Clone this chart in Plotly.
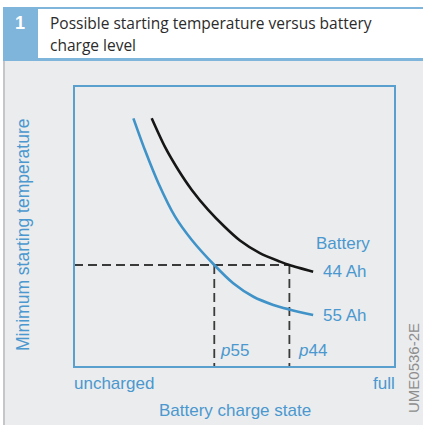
import plotly.graph_objects as go

# Charge state (0 = uncharged, 100 = full) and minimum starting temperature (relative scale)
charge_44 = [24.2, 28.3, 32.5, 36.7, 41.8, 47.0, 51.7, 57.9, 64.2, 67.1, 74.5]
temp_44 = [88.5, 78.4, 70.1, 63.0, 55.9, 49.8, 45.0, 40.5, 37.5, 36.3, 33.9]

charge_55 = [18.5, 22.1, 26.3, 31.5, 36.7, 43.7, 49.6, 55.9, 62.1, 67.1, 74.5]
temp_55 = [88.5, 77.2, 65.4, 53.5, 45.2, 36.3, 29.8, 25.0, 22.1, 20.5, 18.5]

threshold_temp = 36.3
p55 = 43.7
p44 = 67.1

W, H = 423, 425
BLUE = "#4a98cf"
CURVE_BLUE = "#3f93c8"
TEXT_FONT = "Liberation Sans, Arial, sans-serif"


def px(x):
    return x / W


def py(y):
    return 1 - y / H


fig = go.Figure()

# Dashed guides: threshold temperature and the two charge levels
fig.add_trace(go.Scatter(x=[0, p44], y=[threshold_temp, threshold_temp], mode="lines",
                         line=dict(color="#3a3a3a", width=1.8, dash="9px,5px"), hoverinfo="skip"))
for p in (p55, p44):
    fig.add_trace(go.Scatter(x=[p, p], y=[threshold_temp, 0], mode="lines",
                             line=dict(color="#3a3a3a", width=1.8, dash="9px,5px"), hoverinfo="skip"))

fig.add_trace(go.Scatter(x=charge_44, y=temp_44, mode="lines",
                         line=dict(color="#161616", width=2.6, shape="spline", smoothing=0.8),
                         name="44 Ah"))
fig.add_trace(go.Scatter(x=charge_55, y=temp_55, mode="lines",
                         line=dict(color=CURVE_BLUE, width=2.6, shape="spline", smoothing=0.8),
                         name="55 Ah"))

shapes = [
    # page background below the header
    dict(type="rect", xref="paper", yref="paper", x0=px(3), x1=1, y0=0, y1=py(61),
         fillcolor="#ebeced", line_width=0, layer="below"),
    dict(type="line", xref="paper", yref="paper", x0=px(4), x1=px(4), y0=0, y1=py(61),
         line=dict(color="#c4c6c8", width=2)),
    # header band
    dict(type="rect", xref="paper", yref="paper", x0=px(3), x1=1, y0=py(61), y1=py(7),
         fillcolor="#7fb5da", line_width=0, layer="below"),
    dict(type="rect", xref="paper", yref="paper", x0=px(38), x1=1, y0=py(58), y1=py(9),
         fillcolor="#ffffff", line_width=0, layer="below"),
    # plot frame
    dict(type="rect", xref="x domain", yref="y domain", x0=0, x1=1, y0=0, y1=1,
         line=dict(color="#5aa0cf", width=2), layer="above"),
]

annotations = [
    dict(text="<b>1</b>", x=px(20), y=py(23), xref="paper", yref="paper", showarrow=False,
         font=dict(family=TEXT_FONT, size=18, color="#ffffff"), xanchor="center", yanchor="middle"),
    dict(text="Possible starting temperature versus battery", x=px(48), y=py(23),
         xref="paper", yref="paper", showarrow=False, xanchor="left", yanchor="middle",
         font=dict(family="Open Sans, sans-serif", size=15.5, color="#2b2b2b")),
    dict(text="charge level", x=px(48), y=py(45),
         xref="paper", yref="paper", showarrow=False, xanchor="left", yanchor="middle",
         font=dict(family="Open Sans, sans-serif", size=15.5, color="#2b2b2b")),
    dict(text="Minimum starting temperature", x=px(23), y=py(235), xref="paper", yref="paper",
         showarrow=False, textangle=-90, xanchor="center", yanchor="middle",
         font=dict(family=TEXT_FONT, size=17.5, color=BLUE)),
    dict(text="uncharged", x=0, y=py(383), xref="x domain", yref="paper", showarrow=False,
         xanchor="left", yanchor="middle", xshift=-2,
         font=dict(family=TEXT_FONT, size=17, color=BLUE)),
    dict(text="full", x=1, y=py(383), xref="x domain", yref="paper", showarrow=False,
         xanchor="right", yanchor="middle", xshift=2,
         font=dict(family=TEXT_FONT, size=17, color=BLUE)),
    dict(text="Battery charge state", x=px(235), y=py(410), xref="paper", yref="paper",
         showarrow=False, xanchor="center", yanchor="middle",
         font=dict(family=TEXT_FONT, size=17, color=BLUE)),
    dict(text="UME0536-2E", x=px(413), y=py(368), xref="paper", yref="paper", showarrow=False,
         textangle=-90, xanchor="center", yanchor="middle",
         font=dict(family=TEXT_FONT, size=15, color="#8e8e8e")),
    dict(text="Battery", x=px(372), y=py(243), xref="paper", yref="paper", showarrow=False,
         xanchor="right", yanchor="middle", font=dict(family=TEXT_FONT, size=17, color=BLUE)),
    dict(text="44 Ah", x=charge_44[-1], y=temp_44[-1], showarrow=False, xanchor="left",
         yanchor="middle", xshift=8, font=dict(family=TEXT_FONT, size=17, color=BLUE)),
    dict(text="55 Ah", x=charge_55[-1], y=temp_55[-1], showarrow=False, xanchor="left",
         yanchor="middle", xshift=8, font=dict(family=TEXT_FONT, size=17, color=BLUE)),
    dict(text="<i>p</i>55", x=p55, y=py(350), yref="paper", showarrow=False, xanchor="left",
         yanchor="middle", xshift=4, font=dict(family=TEXT_FONT, size=17, color=BLUE)),
    dict(text="<i>p</i>44", x=p44, y=py(350), yref="paper", showarrow=False, xanchor="left",
         yanchor="middle", xshift=7, font=dict(family=TEXT_FONT, size=17, color=BLUE)),
]

fig.update_layout(
    width=W, height=H,
    margin=dict(l=0, r=0, t=0, b=0),
    paper_bgcolor="#ffffff",
    plot_bgcolor="#d0d2d4",
    showlegend=False,
    shapes=shapes,
    annotations=annotations,
    xaxis=dict(domain=[px(74), px(395)], range=[0, 100], showgrid=False, zeroline=False,
               showticklabels=False, ticks="", fixedrange=True),
    yaxis=dict(domain=[py(367), py(86)], range=[0, 100], showgrid=False, zeroline=False,
               showticklabels=False, ticks="", fixedrange=True),
)

fig.write_html("out.html", config={"displayModeBar": False})
